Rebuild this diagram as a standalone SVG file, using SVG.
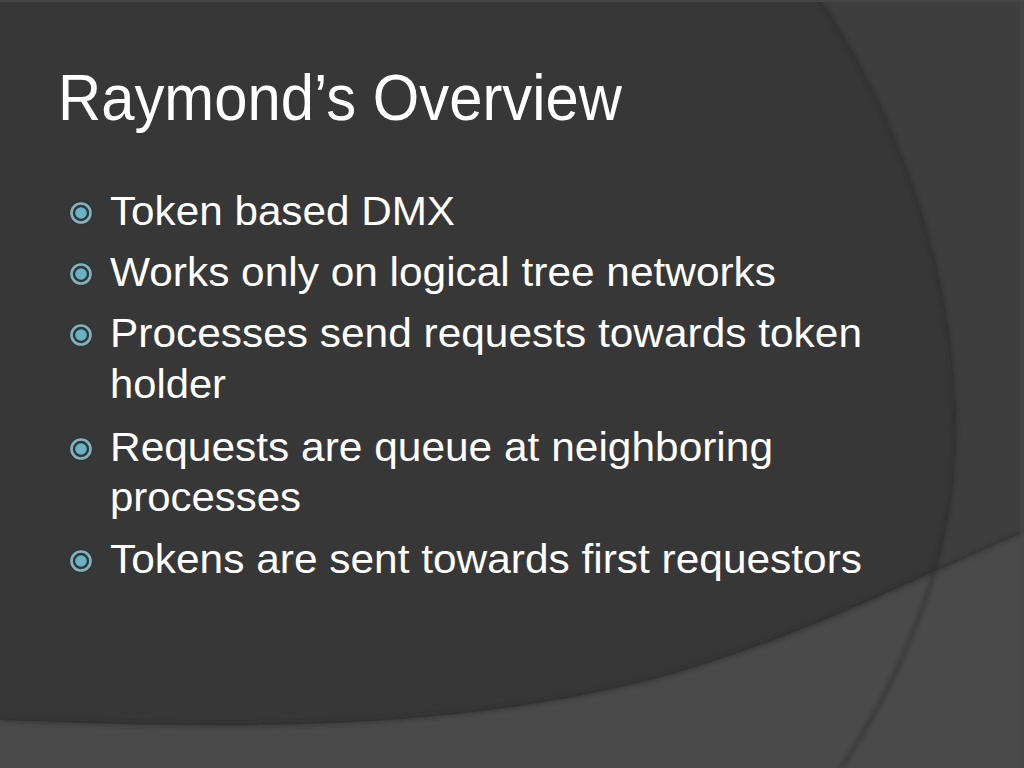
<svg xmlns="http://www.w3.org/2000/svg" width="1024" height="768" viewBox="0 0 1024 768">
<defs>
<filter id="sh" x="-10%" y="-10%" width="120%" height="120%"><feGaussianBlur stdDeviation="2"/></filter>
<g id="bullet">
<circle r="12.5" fill="#2b383c"/>
<circle r="9.5" fill="none" stroke="#8bb0b9" stroke-width="2.6"/>
<circle r="5.8" fill="#68b2c3"/>
</g>
</defs>
<style>
.title{font-family:"Liberation Sans",Arial,sans-serif;font-size:65px;fill:#ffffff}
.body{font-family:"Liberation Sans",Arial,sans-serif;font-size:41px;fill:#ffffff}
</style>
<g id="background">
<rect width="1024" height="768" fill="#373737"/>
<path d="M820,0 C900,120 960,280 955,450 C952,560 900,680 841,768 L1024,768 L1024,0 Z" fill="#3e3e3e"/>
<path d="M0,720 C250,730 450,730 650,680 C800,640 920,575 1024,532 L1024,768 L0,768 Z" fill="#4a4a4a"/>
<path d="M820,0 C900,120 960,280 955,450 C952,560 900,680 841,768" fill="none" stroke="#2a2a2a" stroke-width="2.5" filter="url(#sh)" opacity="0.8"/>
<path d="M0,720 C250,730 450,730 650,680 C800,640 920,575 1024,532" fill="none" stroke="#2a2a2a" stroke-width="2.5" filter="url(#sh)" opacity="0.8"/>
<rect x="0" y="0" width="1024" height="2" fill="#454545"/>
<rect x="1020" y="0" width="4" height="768" fill="#474747" opacity="0.6"/>
</g>
<g id="title">
<text class="title" x="58" y="120" textLength="564" lengthAdjust="spacingAndGlyphs">Raymond’s Overview</text>
</g>
<g id="bullets">
<use href="#bullet" x="81" y="213"/>
<use href="#bullet" x="81" y="274"/>
<use href="#bullet" x="81" y="335"/>
<use href="#bullet" x="81" y="449"/>
<use href="#bullet" x="81" y="561"/>
</g>
<g id="body">
<text class="body" x="110" y="225" textLength="345" lengthAdjust="spacingAndGlyphs">Token based DMX</text>
<text class="body" x="110" y="286" textLength="666" lengthAdjust="spacingAndGlyphs">Works only on logical tree networks</text>
<text class="body" x="110" y="347" textLength="752" lengthAdjust="spacingAndGlyphs">Processes send requests towards token</text>
<text class="body" x="110" y="398" textLength="116" lengthAdjust="spacingAndGlyphs">holder</text>
<text class="body" x="110" y="461" textLength="663" lengthAdjust="spacingAndGlyphs">Requests are queue at neighboring</text>
<text class="body" x="110" y="511" textLength="191" lengthAdjust="spacingAndGlyphs">processes</text>
<text class="body" x="110" y="573" textLength="752" lengthAdjust="spacingAndGlyphs">Tokens are sent towards first requestors</text>
</g>
</svg>
